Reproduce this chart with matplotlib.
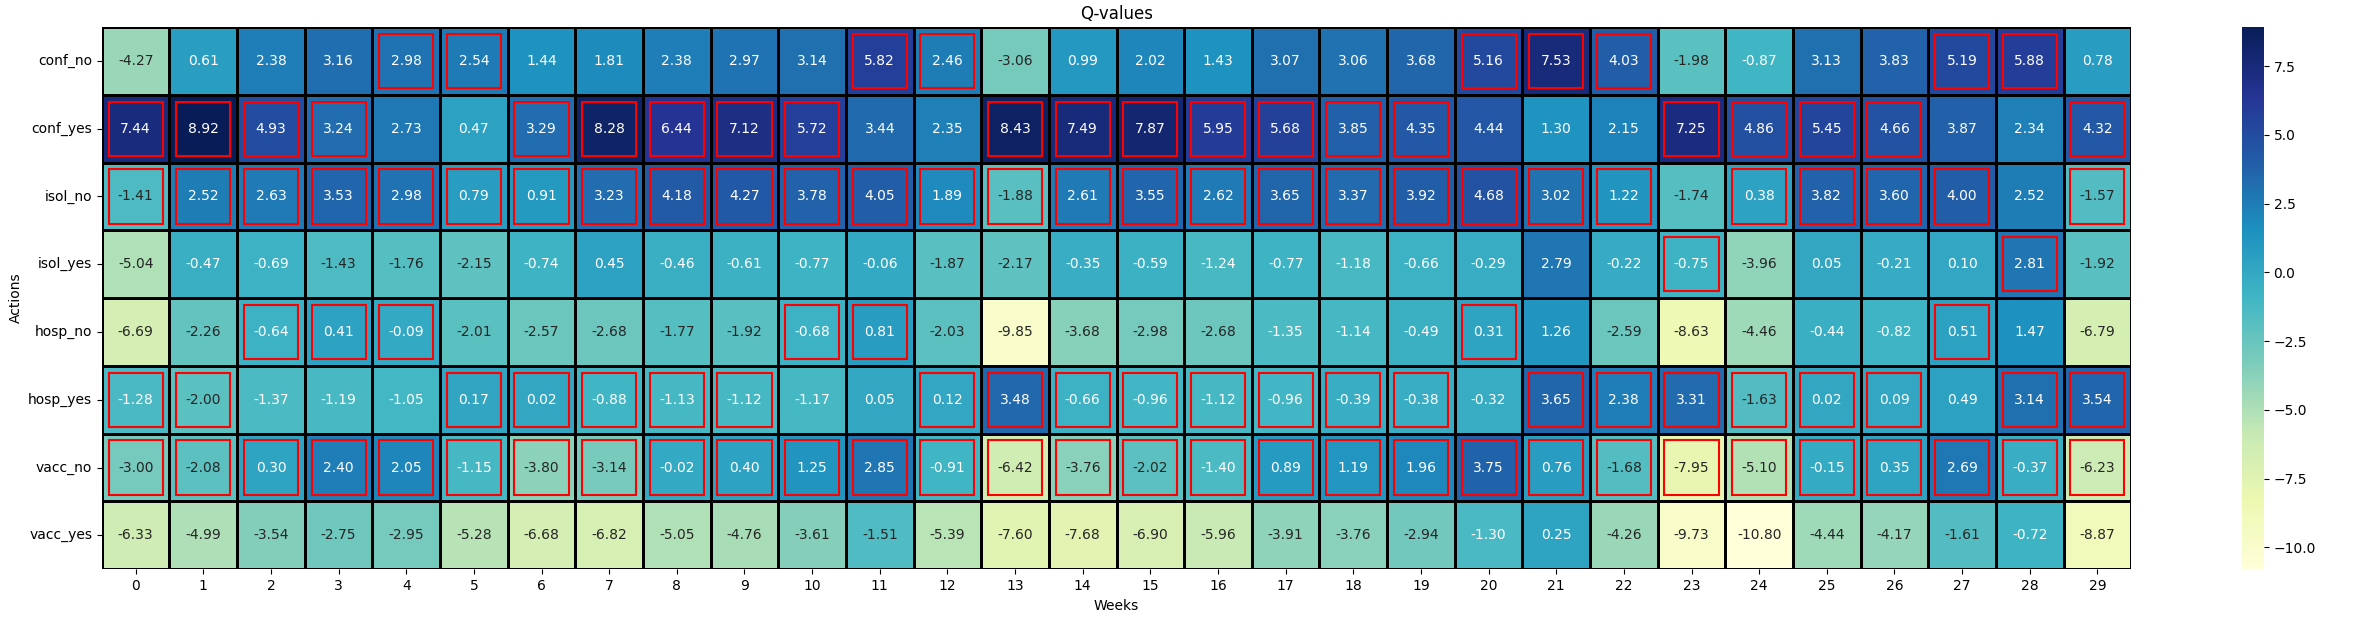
import numpy as np
import matplotlib
matplotlib.use("Agg")
import matplotlib.pyplot as plt
from matplotlib.patches import Rectangle
import seaborn as sns

actions = ["conf_no", "conf_yes", "isol_no", "isol_yes", "hosp_no", "hosp_yes", "vacc_no", "vacc_yes"]
weeks = list(range(30))

conf_no = [-4.27, 0.61, 2.38, 3.16, 2.98, 2.54, 1.44, 1.81, 2.38, 2.97, 3.14, 5.82, 2.46, -3.06, 0.99, 2.02, 1.43, 3.07, 3.06, 3.68, 5.16, 7.53, 4.03, -1.98, -0.87, 3.13, 3.83, 5.19, 5.88, 0.78]
conf_yes = [7.44, 8.92, 4.93, 3.24, 2.73, 0.47, 3.29, 8.28, 6.44, 7.12, 5.72, 3.44, 2.35, 8.43, 7.49, 7.87, 5.95, 5.68, 3.85, 4.35, 4.44, 1.30, 2.15, 7.25, 4.86, 5.45, 4.66, 3.87, 2.34, 4.32]
isol_no = [-1.41, 2.52, 2.63, 3.53, 2.98, 0.79, 0.91, 3.23, 4.18, 4.27, 3.78, 4.05, 1.89, -1.88, 2.61, 3.55, 2.62, 3.65, 3.37, 3.92, 4.68, 3.02, 1.22, -1.74, 0.38, 3.82, 3.60, 4.00, 2.52, -1.57]
isol_yes = [-5.04, -0.47, -0.69, -1.43, -1.76, -2.15, -0.74, 0.45, -0.46, -0.61, -0.77, -0.06, -1.87, -2.17, -0.35, -0.59, -1.24, -0.77, -1.18, -0.66, -0.29, 2.79, -0.22, -0.75, -3.96, 0.05, -0.21, 0.10, 2.81, -1.92]
hosp_no = [-6.69, -2.26, -0.64, 0.41, -0.09, -2.01, -2.57, -2.68, -1.77, -1.92, -0.68, 0.81, -2.03, -9.85, -3.68, -2.98, -2.68, -1.35, -1.14, -0.49, 0.31, 1.26, -2.59, -8.63, -4.46, -0.44, -0.82, 0.51, 1.47, -6.79]
hosp_yes = [-1.28, -2.00, -1.37, -1.19, -1.05, 0.17, 0.02, -0.88, -1.13, -1.12, -1.17, 0.05, 0.12, 3.48, -0.66, -0.96, -1.12, -0.96, -0.39, -0.38, -0.32, 3.65, 2.38, 3.31, -1.63, 0.02, 0.09, 0.49, 3.14, 3.54]
vacc_no = [-3.00, -2.08, 0.30, 2.40, 2.05, -1.15, -3.80, -3.14, -0.02, 0.40, 1.25, 2.85, -0.91, -6.42, -3.76, -2.02, -1.40, 0.89, 1.19, 1.96, 3.75, 0.76, -1.68, -7.95, -5.10, -0.15, 0.35, 2.69, -0.37, -6.23]
vacc_yes = [-6.33, -4.99, -3.54, -2.75, -2.95, -5.28, -6.68, -6.82, -5.05, -4.76, -3.61, -1.51, -5.39, -7.60, -7.68, -6.90, -5.96, -3.91, -3.76, -2.94, -1.30, 0.25, -4.26, -9.73, -10.80, -4.44, -4.17, -1.61, -0.72, -8.87]

q = np.array([conf_no, conf_yes, isol_no, isol_yes, hosp_no, hosp_yes, vacc_no, vacc_yes])

fig = plt.figure(figsize=(23.68, 6.29), dpi=100)
ax = fig.add_axes([0.043, 0.095, 0.857, 0.862])
cax = fig.add_axes([0.947, 0.095, 0.009, 0.862])

sns.heatmap(q, ax=ax, cbar_ax=cax, cmap="YlGnBu", annot=True, fmt=".2f",
            linewidths=1, linecolor="black", xticklabels=weeks, yticklabels=actions)

# red box on the better choice of each no/yes pair
for p in range(0, len(actions), 2):
    for j in range(len(weeks)):
        i = p if q[p, j] >= q[p + 1, j] else p + 1
        ax.add_patch(Rectangle((j + 0.1, i + 0.1), 0.8, 0.8, fill=False, edgecolor="red", lw=1.5))

ax.set_title("Q-values")
ax.set_xlabel("Weeks")
ax.set_ylabel("Actions")
ax.tick_params(axis="y", rotation=0)

fig.savefig("out.png")
